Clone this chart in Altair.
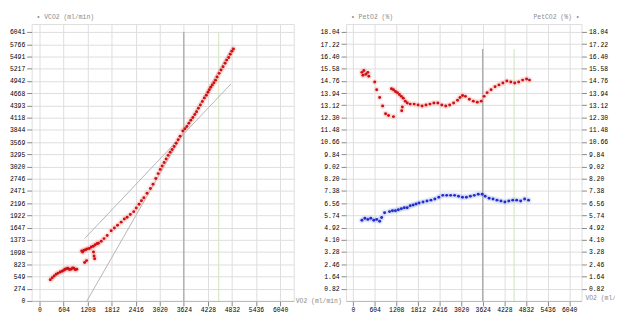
import altair as alt
import pandas as pd

# ---------------- data ----------------
vco2_vo2 = [271, 320, 370, 420, 468, 520, 567, 610, 641, 680, 715, 750, 789, 830, 863, 900, 937,
            1134, 1183,
            1060, 1085, 1120, 1160, 1200, 1250, 1300, 1350, 1400, 1450, 1479, 1356, 1370, 1385,
            1550, 1620, 1700, 1800, 1880, 1960, 2050, 2130, 2200, 2280, 2366, 2430, 2500, 2560,
            2620, 2700, 2785, 2850, 2920, 2980, 3032,
            3080, 3130, 3180, 3230, 3280, 3330, 3380, 3430, 3480, 3530, 3599, 3650, 3700, 3750,
            3800, 3850, 3900, 3944, 3990, 4040, 4090, 4140, 4190, 4230, 4264, 4300, 4340, 4380,
            4420, 4460, 4511, 4560, 4610, 4660, 4700, 4750, 4790, 4831, 4870]
vco2_val = [475, 520, 561, 600, 625, 650, 669, 690, 712, 725, 733, 705, 712, 740, 733, 700, 712,
            863, 906,
            1122, 1100, 1140, 1150, 1170, 1180, 1210, 1230, 1260, 1290, 1294, 1100, 1010, 950,
            1340, 1400, 1470, 1575, 1640, 1700, 1770, 1840, 1880, 1940, 2006, 2090, 2170, 2250,
            2320, 2420, 2524, 2620, 2750, 2860, 2955,
            3030, 3110, 3190, 3270, 3340, 3400, 3470, 3540, 3620, 3700, 3818, 3870, 3920, 3990,
            4060, 4120, 4190, 4249, 4330, 4400, 4480, 4560, 4620, 4690, 4745, 4800, 4850, 4900,
            4960, 5030, 5112, 5190, 5260, 5340, 5410, 5470, 5540, 5608, 5660]

fit_id = ["low", "low", "high", "high"]
fit_x = [1134, 4807, 1190, 4850]
fit_y = [1402, 4875, 0, 5710]

marker_vo2 = [3624, 4500]
marker_kind = ["AT", "RC"]

peto2_vo2 = [248, 276, 303, 358, 413, 441,
             606, 661, 744, 827, 909, 992, 1130,
             1074, 1130, 1185, 1240, 1295, 1350, 1405, 1460, 1515, 1598, 1708, 1818, 1929,
             2039, 2149, 2259, 2369, 2480, 2590, 2700, 2810, 2920, 2990, 3060, 3141, 3251,
             3361, 3471, 3582, 3664, 3747, 3857, 3968, 4078, 4188, 4298, 4408, 4518, 4628,
             4739, 4849, 4931, 1378, 1360]
peto2_val = [15.33, 15.13, 15.46, 15.20, 15.33, 15.07,
             14.68, 14.17, 13.65, 13.07, 12.56, 12.43, 12.36,
             14.23, 14.17, 14.04, 13.97, 13.85, 13.72, 13.59, 13.40, 13.27, 13.20, 13.20,
             13.14, 13.07, 13.14, 13.20, 13.27, 13.27, 13.14, 13.07, 13.14, 13.27, 13.46,
             13.65, 13.78, 13.72, 13.52, 13.40, 13.33, 13.40, 13.72, 13.97, 14.17, 14.36,
             14.49, 14.62, 14.75, 14.68, 14.62, 14.68, 14.81, 14.88, 14.81, 13.00, 12.75]

petco2_vo2 = [248, 331, 413, 496, 579, 661, 744, 799, 882,
              1019, 1102, 1185, 1267, 1350, 1433, 1515, 1598, 1681, 1763, 1846, 1956, 2066,
              2176, 2287, 2397, 2507, 2617, 2727, 2838, 2948, 3058, 3168, 3278, 3388, 3499,
              3609, 3692, 3802, 3912, 4022, 4133, 4243, 4353, 4463, 4573, 4684, 4794, 4904]
petco2_val = [5.41, 5.54, 5.47, 5.54, 5.41, 5.47, 5.35, 5.60, 5.92,
              5.99, 6.05, 6.05, 6.12, 6.18, 6.25, 6.25, 6.38, 6.44, 6.50, 6.57, 6.63, 6.70,
              6.76, 6.83, 6.96, 7.08, 7.08, 7.08, 7.08, 7.02, 6.96, 6.96, 7.02, 7.08, 7.15,
              7.15, 7.02, 6.89, 6.83, 6.76, 6.70, 6.63, 6.70, 6.76, 6.76, 6.70, 6.83, 6.76]

x_ticks = [0, 604, 1208, 1812, 2416, 3020, 3624, 4228, 4832, 5436, 6040]
y_ticks_left = [0, 274, 549, 823, 1098, 1373, 1647, 1922, 2196, 2471, 2746, 3020, 3295,
                3569, 3844, 4118, 4393, 4668, 4942, 5217, 5491, 5766, 6041]
y_ticks_right = [0.82, 1.64, 2.46, 3.28, 4.10, 4.92, 5.74, 6.56, 7.38, 8.20, 9.02, 9.84,
                 10.66, 11.48, 12.30, 13.12, 13.94, 14.76, 15.58, 16.40, 17.22, 18.04]

left_title = "\u2022 VCO2 (ml/min)"
right_title_l = "\u2022 PetO2 (%)"
right_title_r = "PetCO2 (%) \u2022"
x_title = "VO2 (ml/min)"

# ---------------- styling ----------------
FONT = "Liberation Mono"
LAB = "#8a8a8a"
FS = 6.5
W1, W2, H = 266, 239, 281
XDOM = [-197, 6384]
YDOM_L = [0, 6220]
YDOM_R = [0, 18.57]
RED = "#d01010"
BLUE = "#1f2fc8"


def xaxis():
    return alt.Axis(values=x_ticks, format="d", domainColor="#b8b8b8", title=None,
                    labelOverlap=False, labelFont=FONT, labelFontSize=FS, labelPadding=1)


def yaxis(vals, orient="left", fmt="d"):
    return alt.Axis(values=vals, orient=orient, format=fmt, domain=False, title=None,
                    labelOverlap=False, labelFont=FONT, labelFontSize=FS)


xs = alt.Scale(domain=XDOM, nice=False, zero=False)
ysL = alt.Scale(domain=YDOM_L, nice=False, zero=False)
ysR = alt.Scale(domain=YDOM_R, nice=False, zero=False)
XL = alt.X("vo2:Q", scale=xs, axis=xaxis())
YL = alt.Y("vco2:Q", scale=ysL, axis=yaxis(y_ticks_left))
mcol = alt.Color("kind:N", scale=alt.Scale(domain=marker_kind,
                                          range=["#9c9c9c", "#d4e6c0"]), legend=None)

# ---------------- left panel ----------------
df_v = pd.DataFrame({"vo2": vco2_vo2, "vco2": vco2_val})
df_fit = pd.DataFrame({"id": fit_id, "vo2": fit_x, "vco2": fit_y})
df_mark_l = pd.DataFrame({"vo2": marker_vo2, "kind": marker_kind,
                          "vco2": [6041, 6041], "bot": [0, 0]})

rules_l = alt.Chart(df_mark_l).mark_rule(strokeWidth=1.1).encode(
    x=XL, y=YL, y2="bot:Q", color=mcol)
fit_l = alt.Chart(df_fit).mark_line(color="#b4b4b4", strokeWidth=1).encode(
    x=XL, y=YL, detail="id:N")
halo_l = alt.Chart(df_v).mark_circle(size=40, color="#f3a8a8", opacity=0.3).encode(x=XL, y=YL)
pts_l = alt.Chart(df_v).mark_circle(size=9, color=RED, opacity=1).encode(x=XL, y=YL)
t_l = alt.Chart(pd.DataFrame({"t": [left_title]})).mark_text(
    align="left", baseline="middle", font=FONT, fontSize=FS, color=LAB).encode(
    x=alt.value(5), y=alt.value(-7), text="t:N")
xt_l = alt.Chart(pd.DataFrame({"t": [x_title]})).mark_text(
    align="left", baseline="middle", font=FONT, fontSize=FS, color=LAB).encode(
    x=alt.value(W1 + 2), y=alt.value(H), text="t:N")

left = alt.layer(rules_l, fit_l, halo_l, pts_l, t_l, xt_l).properties(width=W1, height=H)

# ---------------- right panel ----------------
df_o = pd.DataFrame({"vo2": peto2_vo2, "pet": peto2_val})
df_c = pd.DataFrame({"vo2": petco2_vo2, "pet": petco2_val})
df_mark_r = pd.DataFrame({"vo2": marker_vo2, "kind": marker_kind,
                          "pet": [16.9, 16.9], "bot": [0, 0]})
YR1 = alt.Y("pet:Q", scale=ysR, axis=yaxis(y_ticks_right, "left", ".2f"))
YR2 = alt.Y("pet:Q", scale=ysR, axis=yaxis(y_ticks_right, "right", ".2f"))

rules_r = alt.Chart(df_mark_r).mark_rule(strokeWidth=1.1).encode(
    x=XL, y=YR1, y2="bot:Q", color=mcol)
halo_o = alt.Chart(df_o).mark_circle(size=40, color="#f3a8a8", opacity=0.3).encode(x=XL, y=YR1)
pts_o = alt.Chart(df_o).mark_circle(size=9, color=RED, opacity=1).encode(x=XL, y=YR1)
t_r1 = alt.Chart(pd.DataFrame({"t": [right_title_l]})).mark_text(
    align="left", baseline="middle", font=FONT, fontSize=FS, color=LAB).encode(
    x=alt.value(5), y=alt.value(-7), text="t:N")
t_r2 = alt.Chart(pd.DataFrame({"t": [right_title_r]})).mark_text(
    align="right", baseline="middle", font=FONT, fontSize=FS, color=LAB).encode(
    x=alt.value(W2 - 2), y=alt.value(-7), text="t:N")
xt_r = alt.Chart(pd.DataFrame({"t": [x_title]})).mark_text(
    align="left", baseline="middle", font=FONT, fontSize=FS, color=LAB).encode(
    x=alt.value(W2 + 4), y=alt.value(H - 3), text="t:N")
layer_o = alt.layer(rules_r, halo_o, pts_o, t_r1, t_r2, xt_r)

halo_c = alt.Chart(df_c).mark_circle(size=40, color="#a8b4f0", opacity=0.3).encode(
    x=XL, y=YR2)
pts_c = alt.Chart(df_c).mark_circle(size=9, color=BLUE, opacity=1).encode(x=XL, y=YR2)
layer_c = alt.layer(halo_c, pts_c)

right = alt.layer(layer_o, layer_c).resolve_scale(y="independent").properties(
    width=W2, height=H)

chart = alt.hconcat(left, right, spacing=53, bounds="flush").properties(
    padding={"left": 0, "top": 3, "right": -18, "bottom": 0}
).configure_view(stroke="#c4c4c4", strokeWidth=1).configure_axis(
    labelFont=FONT, labelFontSize=FS, labelColor=LAB, tickColor="#b0b0b0",
    tickSize=3, labelPadding=2, grid=False, labelOverlap=False, labelFlush=False,
    labelBound=False
).configure(background="white")

chart.save("out.html", embed_options={"renderer": "svg", "actions": False})
